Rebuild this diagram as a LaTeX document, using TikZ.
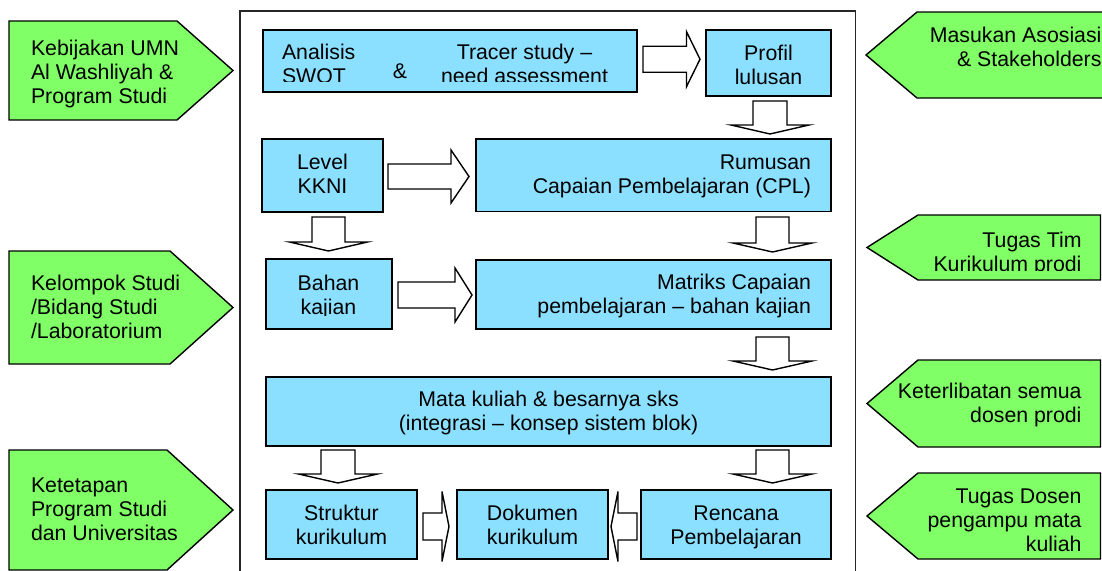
\documentclass[tikz,border=0pt]{standalone}
\usepackage{fontspec}
\setmainfont{Liberation Sans}
\usetikzlibrary{calc}
\definecolor{boxblue}{RGB}{140,224,255}
\definecolor{sidegreen}{RGB}{128,255,102}
% line strut: fixed ascent/descent so text blocks sit on known baselines
\newcommand\lnst{\rule[-6.2pt]{0pt}{24.2pt}}
% block arrows: #1 start, #2 tip, #3 shaft half width, #4 head half width, #5 head length
\newcommand\rblock[5]{%
  \draw[blockarrow] let \p1=(#1), \p2=(#2) in
    (\x1,\y1+#3) -- (\x2-#5,\y1+#3) -- (\x2-#5,\y1+#4) -- (\x2,\y1)
    -- (\x2-#5,\y1-#4) -- (\x2-#5,\y1-#3) -- (\x1,\y1-#3) -- cycle;}
\newcommand\lblock[5]{%
  \draw[blockarrow] let \p1=(#1), \p2=(#2) in
    (\x1,\y1+#3) -- (\x2+#5,\y1+#3) -- (\x2+#5,\y1+#4) -- (\x2,\y1)
    -- (\x2+#5,\y1-#4) -- (\x2+#5,\y1-#3) -- (\x1,\y1-#3) -- cycle;}
\newcommand\dblock[5]{%
  \draw[blockarrow] let \p1=(#1), \p2=(#2) in
    (\x1-#3,\y1) -- (\x1-#3,\y2+#5) -- (\x1-#4,\y2+#5) -- (\x1,\y2)
    -- (\x1+#4,\y2+#5) -- (\x1+#3,\y2+#5) -- (\x1+#3,\y1) -- cycle;}
\begin{document}
\begin{tikzpicture}[x=1pt,y=-1pt,
  bluebox/.style={draw=black, line width=1.4pt, fill=boxblue, inner sep=0pt,
    outer sep=0pt, anchor=north west},
  greenshape/.style={draw=black, line width=1.4pt, fill=sidegreen, line join=miter},
  blockarrow/.style={draw=black, line width=1.4pt, fill=white, line join=miter},
  frame/.style={draw=black!85, line width=1.2pt},
  txt/.style={inner sep=0pt, outer sep=0pt, text=black,
    font=\fontsize{21.3}{24.2}\selectfont},
  ctxt/.style={txt, align=center, anchor=north},
  ltxt/.style={txt, align=left, anchor=north west},
  rtxt/.style={txt, align=right, anchor=north east}]
\useasboundingbox (0,0) rectangle (1102,570);
\clip (0,0) rectangle (1102,570);

% process frame
\draw[frame] (240,11) rectangle (855.5,600);

% process boxes
\node[bluebox, minimum width=374pt, minimum height=62pt] (ana) at (263,30) {};
\node[bluebox, minimum width=125pt, minimum height=66pt] (pro) at (706,30) {};
\node[bluebox, minimum width=121pt, minimum height=73pt] (lvl) at (262,139) {};
\node[bluebox, minimum width=355pt, minimum height=72.5pt] (rum) at (476,139) {};
\node[bluebox, minimum width=126pt, minimum height=70pt] (bah) at (266,259) {};
\node[bluebox, minimum width=355pt, minimum height=69pt] (mat) at (476,260) {};
\node[bluebox, minimum width=565pt, minimum height=69pt] (mk) at (266,377) {};
\node[bluebox, minimum width=151pt, minimum height=69pt] (str) at (266,490) {};
\node[bluebox, minimum width=151pt, minimum height=69pt] (dok) at (457,490) {};
\node[bluebox, minimum width=190pt, minimum height=69pt] (ren) at (641,490) {};

% block arrows between boxes
\rblock{$(ana.east)+(6,-1.8)$}{$(pro.west)+(-6,0)$}{13pt}{27.5pt}{13.5pt}
\rblock{$(lvl.east)+(5,1)$}{$(rum.west)+(-7,0)$}{12.5pt}{26.5pt}{18pt}
\rblock{$(bah.east)+(6,1)$}{$(mat.west)+(-4,0)$}{13pt}{27pt}{17pt}
\rblock{$(str.east)+(6,2)$}{$(dok.west)+(-8,0)$}{13.5pt}{35pt}{7pt}
\lblock{$(ren.west)+(-4,2)$}{$(dok.east)+(3,0)$}{13.5pt}{35pt}{7pt}
\dblock{$(pro.south)+(1.5,5)$}{$(rum.north)+(0,-5)$}{17pt}{39pt}{9pt}
\dblock{$(lvl.south)+(6,5)$}{$(bah.north)+(0,-8)$}{16.5pt}{39pt}{9pt}
\dblock{$(rum.south east)+(-58.5,5.5)$}{$(mat.north)+(0,-8)$}{16.5pt}{39.5pt}{9pt}
\dblock{$(mat.south east)+(-58.5,8)$}{$(mk.north)+(0,-7)$}{16.5pt}{39.5pt}{9pt}
\dblock{$(mk.south west)+(72,4)$}{$(str.north)+(0,-7)$}{17pt}{39.5pt}{9pt}
\dblock{$(mk.south east)+(-58.5,4)$}{$(ren.north)+(0,-7)$}{16.5pt}{39.5pt}{9pt}

% box texts (some are cut off by their text frames)
\begin{scope}
  \clip (263,30) rectangle (637,81);
  \node[ltxt] (t-ana) at (282,41.5) {\lnst Analisis\\\lnst SWOT};
  \node[ctxt] (t-tra) at (524.5,41.5) {\lnst Tracer study –\\\lnst need assessment};
\end{scope}
\node[ctxt] (t-amp) at (400,60) {\lnst\&};
\node[ctxt] (t-pro) at (768.5,42.5) {\lnst Profil\\\lnst lulusan};
\node[ctxt] (t-lvl) at (322.5,151) {\lnst Level\\\lnst KKNI};
\node[rtxt] (t-rum) at (811,151) {\lnst Rumusan\\\lnst Capaian Pembelajaran (CPL)};
\begin{scope}
  \clip (266,259) rectangle (392,315.5);
  \node[ctxt] (t-bah) at (328.5,272) {\lnst Bahan\\\lnst kajian};
\end{scope}
\node[rtxt] (t-mat) at (811,271.5) {\lnst Matriks Capaian\\\lnst pembelajaran – bahan kajian};
\node[ctxt] (t-mk) at (548.5,388) {\lnst Mata kuliah \& besarnya sks\\\lnst (integrasi – konsep sistem blok)};
\node[ctxt] (t-str) at (341.5,502) {\lnst Struktur\\\lnst kurikulum};
\node[ctxt] (t-dok) at (532.5,502) {\lnst Dokumen\\\lnst kurikulum};
\node[ctxt] (t-ren) at (736,502) {\lnst Rencana\\\lnst Pembelajaran};

% inputs on the left
\draw[greenshape] (9,21) -- (177,21) -- (233,70.5) -- (177,120) -- (9,120) -- cycle;
\draw[greenshape] (9,251) -- (170,251) -- (233,307.5) -- (170,364) -- (9,364) -- cycle;
\draw[greenshape] (9,450) -- (167,450) -- (233,510) -- (167,570) -- (9,570) -- cycle;
\node[ltxt] (g-keb) at (31,37.5) {\lnst Kebijakan UMN\\\lnst Al Washliyah \&\\\lnst Program Studi};
\node[ltxt] (g-kel) at (31,272) {\lnst Kelompok Studi\\\lnst /Bidang Studi\\\lnst /Laboratorium};
\node[ltxt] (g-ket) at (31,474) {\lnst Ketetapan\\\lnst Program Studi\\\lnst dan Universitas};

% inputs on the right
\draw[greenshape] (1106,12) -- (917,12) -- (866,55) -- (917,98) -- (1106,98) -- cycle;
\draw[greenshape] (1100.5,215) -- (918,215) -- (867,247.5) -- (918,280) -- (1100.5,280) -- cycle;
\draw[greenshape] (1100.5,360) -- (918,360) -- (867,403.5) -- (918,447) -- (1100.5,447) -- cycle;
\draw[greenshape] (1100.5,473) -- (918,473) -- (867,516) -- (918,559) -- (1100.5,559) -- cycle;
\node[rtxt] (g-mas) at (1101.5,24) {\lnst Masukan Asosiasi\\\lnst \& Stakeholders};
\begin{scope}
  \clip (860,210) rectangle (1102,270.5);
  \node[rtxt] (g-tim) at (1081.5,229) {\lnst Tugas Tim\\\lnst Kurikulum prodi};
\end{scope}
\node[rtxt] (g-ter) at (1081.5,380) {\lnst Keterlibatan semua\\\lnst dosen prodi};
\node[rtxt] (g-dos) at (1081.5,485.5) {\lnst Tugas Dosen\\\lnst pengampu mata\\\lnst kuliah};
\end{tikzpicture}
\end{document}
